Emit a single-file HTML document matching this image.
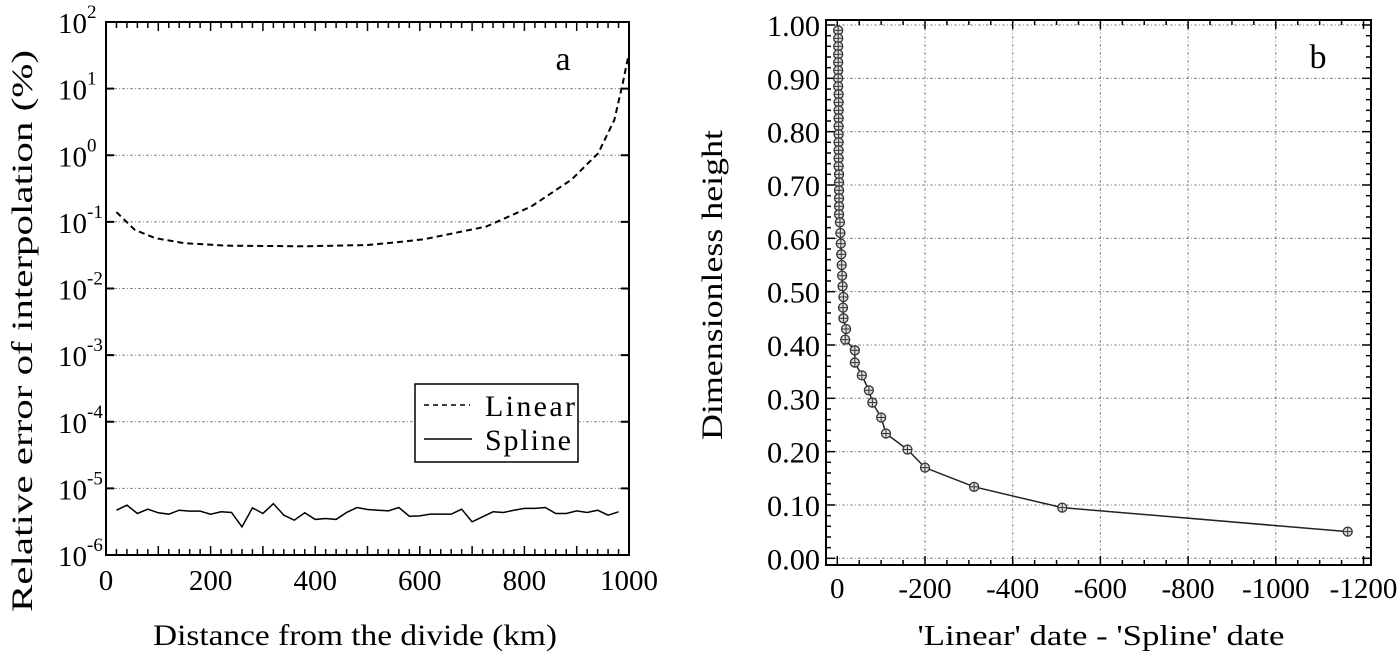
<!DOCTYPE html>
<html><head><meta charset="utf-8">
<style>
html,body{margin:0;padding:0;background:#fff;}
svg{display:block;font-family:"Liberation Serif",serif;}
</style></head>
<body>
<svg id="fig" width="1400" height="655" viewBox="0 0 1400 655" xmlns="http://www.w3.org/2000/svg">
<g id="pa"></g>
<g id="pb"></g>
</svg>
<script>
// ---- Panel a data ----
const aLinearX = [20,55,94,149,227,383,500,562,609,727,813,890,941,972,988,998];
const aLinearY = [0.14,0.076,0.057,0.048,0.044,0.043,0.045,0.05,0.055,0.085,0.17,0.43,1.07,3.4,12,29];
const aSplineX = [20,40,60,80,100,120,140,160,180,200,220,240,260,280,300,320,340,360,380,400,420,440,460,480,500,520,540,560,580,600,620,640,660,680,700,720,740,760,780,800,820,840,860,880,900,920,940,960,980];
const aSplineY = [4.7e-6,5.6e-6,4.2e-6,4.87e-6,4.3e-6,4.1e-6,4.7e-6,4.55e-6,4.55e-6,4.1e-6,4.45e-6,4.35e-6,2.65e-6,5.1e-6,4.2e-6,5.9e-6,3.96e-6,3.33e-6,4.3e-6,3.42e-6,3.53e-6,3.42e-6,4.35e-6,5.16e-6,4.82e-6,4.7e-6,4.6e-6,5.16e-6,3.82e-6,3.87e-6,4.1e-6,4.1e-6,4.1e-6,4.87e-6,3.15e-6,3.74e-6,4.45e-6,4.35e-6,4.7e-6,5.0e-6,5.0e-6,5.16e-6,4.2e-6,4.2e-6,4.6e-6,4.35e-6,4.7e-6,3.96e-6,4.45e-6];
const aXTicks = [0,200,400,600,800,1000];
const aYExps = [2,1,0,-1,-2,-3,-4,-5,-6];
// ---- Panel b data ----
const bHeight = [0.99,0.975,0.96,0.945,0.93,0.915,0.90,0.885,0.87,0.855,0.84,0.825,0.81,0.795,0.78,0.765,0.75,0.735,0.72,0.705,0.69,0.675,0.66,0.645,0.63,0.61,0.59,0.57,0.55,0.53,0.51,0.49,0.47,0.45,0.43,0.41,0.39,0.367,0.343,0.315,0.292,0.264,0.234,0.204,0.170,0.134,0.095,0.050];
const bDiff = [-2,-2,-2,-2,-2,-2,-2,-2,-3,-3,-3,-3,-3,-3,-3,-3,-3,-3,-4,-4,-4,-4,-4,-4,-6,-7,-8,-9,-10,-11,-12,-14,-13,-14,-20,-18,-40,-40,-56,-72,-80,-100,-111,-160,-200,-312,-513,-1164];
const bXTicks = [0,-200,-400,-600,-800,-1000,-1200];
const bYTicks = [0,0.1,0.2,0.3,0.4,0.5,0.6,0.7,0.8,0.9,1.0];

const NS="http://www.w3.org/2000/svg";
function mk(parent,tag,attrs,text){const e=document.createElementNS(NS,tag);for(const k in attrs)e.setAttribute(k,attrs[k]);if(text!==undefined)e.textContent=text;parent.appendChild(e);return e;}

// ---- Panel a ----
const pa=document.getElementById('pa');
const aL=106,aR=629,aT=22,aB=555;
const ax=v=>aL+(v/1000)*(aR-aL);
const ay=v=>aT+(2-Math.log10(v))*(aB-aT)/8;
aYExps.forEach(e=>{ if(e<2&&e>-6){const g=mk(pa,'line',{x1:aL,x2:aR,y1:ay(Math.pow(10,e)),y2:ay(Math.pow(10,e)),stroke:'#888','stroke-width':1,'stroke-dasharray':'3,2,1,2'});

}});
for(let v=0;v<=1000;v+=20){const L=(v%100===0)?9:6;
mk(pa,'line',{x1:ax(v),x2:ax(v),y1:aB,y2:aB-L,stroke:'#000','stroke-width':1.5});
mk(pa,'line',{x1:ax(v),x2:ax(v),y1:aT,y2:aT+L,stroke:'#000','stroke-width':1.5});}
aYExps.forEach(e=>{const y=ay(Math.pow(10,e));
mk(pa,'line',{x1:aL,x2:aL+8,y1:y,y2:y,stroke:'#000','stroke-width':2});
mk(pa,'line',{x1:aR,x2:aR-8,y1:y,y2:y,stroke:'#000','stroke-width':2});
const t=mk(pa,'text',{x:58,y:y+11,'font-size':29});


t.textContent='10';
mk(t,'tspan',{dy:-15,'font-size':19},String(e));
});
aXTicks.forEach(v=>{const t=mk(pa,'text',{x:ax(v),y:590,'text-anchor':'middle','font-size':29},String(v));

});
mk(pa,'rect',{x:aL,y:aT,width:aR-aL,height:aB-aT,fill:'none',stroke:'#000','stroke-width':2});
const lin=mk(pa,'polyline',{points:aLinearX.map((x,i)=>ax(x)+','+ay(aLinearY[i])).join(' '),fill:'none',stroke:'#000','stroke-width':2,'stroke-dasharray':'6,4'});


const spl=mk(pa,'polyline',{points:aSplineX.map((x,i)=>ax(x)+','+ay(aSplineY[i])).join(' '),fill:'none',stroke:'#000','stroke-width':1.5});


const lg=mk(pa,'g',{});


mk(lg,'rect',{x:415,y:384,width:163,height:78,fill:'#fff',stroke:'#000','stroke-width':1.5});
mk(lg,'line',{x1:424,x2:470,y1:425-20,y2:405,stroke:'#000','stroke-width':1.5,'stroke-dasharray':'5,4'});
mk(lg,'text',{x:485,y:416,'font-size':30,textLength:90},'Linear');
mk(lg,'line',{x1:424,x2:472,y1:439,y2:439,stroke:'#000','stroke-width':1.5});
mk(lg,'text',{x:485,y:450,'font-size':30,textLength:86},'Spline');
mk(pa,'text',{x:563,y:70,'font-size':34,'text-anchor':'middle'},'a');
const axa=mk(pa,'text',{x:355,y:645,'text-anchor':'middle','font-size':30,textLength:404,lengthAdjust:'spacingAndGlyphs'},'Distance from the divide (km)');


const aya=mk(pa,'text',{x:0,y:0,'text-anchor':'middle','font-size':30,textLength:562,lengthAdjust:'spacingAndGlyphs',transform:'translate(32,331) rotate(-90)'},'Relative error of interpolation (%)');



// ---- Panel b ----
const pb=document.getElementById('pb');
const bL=826,bR=1371,bT=20,bB=565;
const bx=v=>837.3+(-v)*0.4385;
const by=v=>558.3-v*533.3;
bXTicks.forEach(v=>{ if(v!==0&&v!==-1200){const g=mk(pb,'line',{x1:bx(v),x2:bx(v),y1:bT,y2:bB,stroke:'#888','stroke-width':1,'stroke-dasharray':'3,2,1,2'});

}});
bYTicks.forEach(v=>{const g=mk(pb,'line',{x1:bL,x2:bR,y1:by(v),y2:by(v),stroke:'#888','stroke-width':1,'stroke-dasharray':'3,2,1,2'});

});
for(let v=0;v>=-1200;v-=50){const L=(v%200===0)?9:5;
mk(pb,'line',{x1:bx(v),x2:bx(v),y1:bB,y2:bB-L,stroke:'#000','stroke-width':1.5});
mk(pb,'line',{x1:bx(v),x2:bx(v),y1:bT,y2:bT+L,stroke:'#000','stroke-width':1.5});}
for(let i=0;i<=50;i++){const v=i*0.02;const L=(i%5===0)?9:5;
mk(pb,'line',{x1:bL,x2:bL+L,y1:by(v),y2:by(v),stroke:'#000','stroke-width':1.5});
mk(pb,'line',{x1:bR,x2:bR-L,y1:by(v),y2:by(v),stroke:'#000','stroke-width':1.5});}
bYTicks.forEach(v=>{const t=mk(pb,'text',{x:820,y:by(v)+11,'text-anchor':'end','font-size':30,textLength:53,lengthAdjust:'spacingAndGlyphs'},v.toFixed(2));

});
bXTicks.forEach(v=>{const t=mk(pb,'text',{x:bx(v),y:598,'text-anchor':'middle','font-size':29},String(v));

});
mk(pb,'rect',{x:bL,y:bT,width:bR-bL,height:bB-bT,fill:'none',stroke:'#000','stroke-width':2});
const bl=mk(pb,'polyline',{points:bDiff.map((d,i)=>bx(d)+','+by(bHeight[i])).join(' '),fill:'none',stroke:'#222','stroke-width':1.5});


bDiff.forEach((d,i)=>{const cx=bx(d),cy=by(bHeight[i]);
const g=mk(pb,'g',{});


mk(g,'circle',{cx:cx,cy:cy,r:4.5,fill:'#ddd',stroke:'#333','stroke-width':1.3});
mk(g,'line',{x1:cx-4,x2:cx+4,y1:cy,y2:cy,stroke:'#333','stroke-width':1});
mk(g,'line',{x1:cx,x2:cx,y1:cy-4,y2:cy+4,stroke:'#333','stroke-width':1});});
mk(pb,'text',{x:1318,y:68,'font-size':34,'text-anchor':'middle'},'b');
const bxa=mk(pb,'text',{x:1101,y:645,'text-anchor':'middle','font-size':28,textLength:367,lengthAdjust:'spacingAndGlyphs'},"'Linear' date - 'Spline' date");


const bya=mk(pb,'text',{x:0,y:0,'text-anchor':'middle','font-size':30,textLength:310,lengthAdjust:'spacingAndGlyphs',transform:'translate(722,285) rotate(-90)'},'Dimensionless height');


</script>
</body></html>
